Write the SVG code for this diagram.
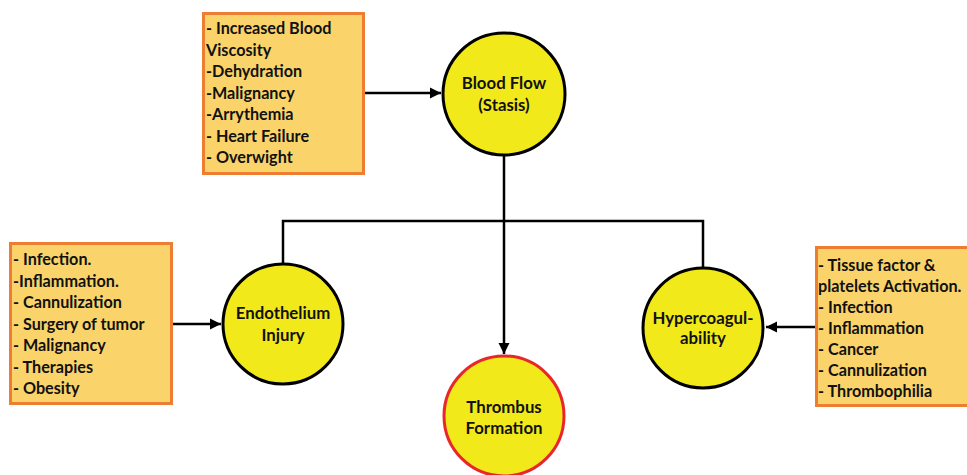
<svg xmlns="http://www.w3.org/2000/svg" width="967" height="475" viewBox="0 0 967 475">
<defs>
<style>
.box{fill:#FAD46A;stroke:#ED7D31;stroke-width:3}
.circ{fill:#F2E91A;stroke:#000;stroke-width:3}
.red{stroke:#E8262B}
.t{font-family:Lato,"Liberation Sans",sans-serif;font-weight:bold;font-size:16.2px;fill:#111}
.c{text-anchor:middle;font-size:16.8px}
.ln{fill:none;stroke:#000;stroke-width:2.5}
</style>
<marker id="ah" viewBox="0 0 10 10" refX="10" refY="5" markerWidth="4.5" markerHeight="4.5" orient="auto" markerUnits="strokeWidth">
<path d="M0,0 L10,5 L0,10 z" fill="#000"/>
</marker>
</defs>
<rect width="967" height="475" fill="#fff"/>
<g id="connectors">
<line class="ln" x1="364" y1="93" x2="441" y2="93" marker-end="url(#ah)"/>
<line class="ln" x1="504" y1="155" x2="504" y2="354" marker-end="url(#ah)"/>
<polyline class="ln" points="283,264 283,221 703,221 703,268"/>
<line class="ln" x1="172" y1="324" x2="221" y2="324" marker-end="url(#ah)"/>
<line class="ln" x1="816" y1="327" x2="766" y2="327" marker-end="url(#ah)"/>
</g>
<g id="box-top">
<rect class="box" x="203.5" y="13.5" width="160" height="160"/>
<text class="t" x="206" y="34">- Increased Blood</text>
<text class="t" x="206" y="55.5">Viscosity</text>
<text class="t" x="206" y="77">-Dehydration</text>
<text class="t" x="206" y="98.5">-Malignancy</text>
<text class="t" x="206" y="120">-Arrythemia</text>
<text class="t" x="206" y="141.5">- Heart Failure</text>
<text class="t" x="206" y="163">- Overwight</text>
</g>
<g id="box-left">
<rect class="box" x="10.5" y="243.5" width="161" height="160"/>
<text class="t" x="13" y="265">- Infection.</text>
<text class="t" x="13" y="286.5">-Inflammation.</text>
<text class="t" x="13" y="308">- Cannulization</text>
<text class="t" x="13" y="329.5">- Surgery of tumor</text>
<text class="t" x="13" y="351">- Malignancy</text>
<text class="t" x="13" y="372.5">- Therapies</text>
<text class="t" x="13" y="394">- Obesity</text>
</g>
<g id="box-right">
<rect class="box" x="816.5" y="247.5" width="160" height="158"/>
<text class="t" x="818" y="271">- Tissue factor &amp;</text>
<text class="t" x="818" y="292">platelets Activation.</text>
<text class="t" x="818" y="313">- Infection</text>
<text class="t" x="818" y="334">- Inflammation</text>
<text class="t" x="818" y="355">- Cancer</text>
<text class="t" x="818" y="376">- Cannulization</text>
<text class="t" x="818" y="397">- Thrombophilia</text>
</g>
<g id="node-bloodflow">
<circle class="circ" cx="504" cy="94" r="61"/>
<text class="t c" x="504" y="89">Blood Flow</text>
<text class="t c" x="504" y="111">(Stasis)</text>
</g>
<g id="node-endothelium">
<circle class="circ" cx="283" cy="324" r="60"/>
<text class="t c" x="283" y="319">Endothelium</text>
<text class="t c" x="283" y="341">Injury</text>
</g>
<g id="node-hypercoag">
<circle class="circ" cx="703" cy="328" r="60"/>
<text class="t c" x="703" y="324">Hypercoagul-</text>
<text class="t c" x="703" y="344">ability</text>
</g>
<g id="node-thrombus">
<circle class="circ red" cx="504" cy="416" r="60"/>
<text class="t c" x="504" y="413">Thrombus</text>
<text class="t c" x="504" y="434">Formation</text>
</g>
</svg>
